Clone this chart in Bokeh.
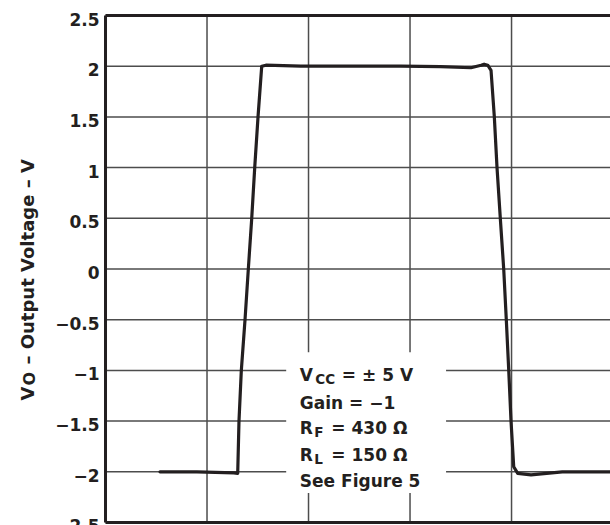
from bokeh.plotting import figure
from bokeh.models import Range1d, Label, BoxAnnotation
from bokeh.core.properties import value
from bokeh.embed import file_html
from bokeh.resources import INLINE
import math

# ---- data (time in ns, voltage in V) ----
t_ns = [10.74, 18.0, 25.3, 26.05, 26.3, 26.76, 27.49, 28.14, 28.81, 29.4, 30.05,
        30.78, 31.6, 38.5, 48.0, 58.2, 66.0, 72.0, 74.0, 74.6, 75.31, 75.96,
        76.61, 77.14, 77.79, 78.46, 78.97, 79.45, 79.90, 80.43, 81.22, 83.84,
        90.0, 99.6]
v_out = [-2.0, -2.0, -2.01, -2.015, -1.5, -1.0, -0.5, 0.0, 0.5, 1.0, 1.5,
         2.0, 2.01, 2.0, 2.0, 2.0, 1.995, 1.985, 2.01, 2.02, 2.01, 1.96,
         1.5, 1.0, 0.5, 0.0, -0.5, -1.0, -1.5, -1.95, -2.015, -2.03,
         -2.0, -2.0]

y_ticks = [-2.5, -2, -1.5, -1, -0.5, 0, 0.5, 1, 1.5, 2, 2.5]
y_tick_labels = ["\u22122.5", "\u22122", "\u22121.5", "\u22121", "\u22120.5", "0",
                 "0.5", "1", "1.5", "2", "2.5"]
x_grid = [20, 40, 60, 80]
x_start, x_end = 0.0, 99.5
y_lo, y_hi = y_ticks[0], y_ticks[-1]

INK = "#231f20"
GRID = "#4d4d4d"
FONT = "DejaVu Sans"

# the frame covers the whole canvas; the plotting box starts at x = 0
p = figure(width=610, height=525, output_backend="svg", toolbar_location=None,
           x_range=Range1d(-20.69, x_end), y_range=Range1d(-2.5296, 2.648),
           min_border=0, x_axis_location=None, y_axis_location=None)
p.outline_line_color = None
p.grid.visible = False
p.background_fill_color = "white"
p.border_fill_color = "white"

n = len(y_ticks)
# horizontal grid lines
p.segment(x0=[x_start] * n, y0=y_ticks, x1=[x_end] * n, y1=y_ticks,
          line_color=GRID, line_width=1.5)
# vertical grid lines
m = len(x_grid)
p.segment(x0=x_grid, y0=[y_lo] * m, x1=x_grid, y1=[y_hi] * m,
          line_color=GRID, line_width=1.5)

# frame lines (left, top, bottom)
p.segment(x0=[x_start, x_start, x_start], y0=[y_lo, y_hi, y_lo],
          x1=[x_start, x_end, x_end], y1=[y_hi, y_hi, y_lo],
          line_color=INK, line_width=3)

# waveform
p.line(t_ns, v_out, line_color=INK, line_width=3.2, line_join="round", line_cap="round")

# tick labels
p.text(x=[x_start] * n, y=y_ticks, text=y_tick_labels, x_offset=-6, y_offset=3.5,
       text_font=value(FONT), text_font_style="bold", text_font_size="17px",
       text_color=INK, text_align="right", text_baseline="middle")

# legend background box (blanks the grid)
p.add_layout(BoxAnnotation(left=35.6, right=67.1, top=-0.82, bottom=-2.21,
                           fill_color="white", fill_alpha=1.0, line_color=None))

def lab(x, y, text, size, xo=0, yo=0, angle=0):
    p.add_layout(Label(x=x, y=y, text=text, x_offset=xo, y_offset=yo, angle=angle,
                       text_font=FONT, text_font_style="bold",
                       text_font_size=f"{size}px", text_color=INK,
                       text_align="left", text_baseline="alphabetic"))

# annotation text
ax0 = 38.29
lines_y = [-1.043, -1.32, -1.57, -1.832, -2.086]
lab(ax0, lines_y[0], "V", 17)
lab(ax0, lines_y[0], "CC", 13.5, xo=15.5, yo=-4)
lab(ax0, lines_y[0], "= \u00b1 5 V", 17, xo=42)
lab(ax0, lines_y[1], "Gain = \u22121", 17)
lab(ax0, lines_y[2], "R", 17)
lab(ax0, lines_y[2], "F", 13.5, xo=14.5, yo=-4)
lab(ax0, lines_y[2], "= 430 \u03a9", 17, xo=31.5)
lab(ax0, lines_y[3], "R", 17)
lab(ax0, lines_y[3], "L", 13.5, xo=14.5, yo=-4)
lab(ax0, lines_y[3], "= 150 \u03a9", 17, xo=31.5)
lab(ax0, lines_y[4], "See Figure 5", 17)

# rotated y-axis title
tx, ty = -15.4, -1.297
lab(tx, ty, "V", 18, angle=math.pi / 2)
lab(tx, ty, "O", 16, xo=2, yo=15, angle=math.pi / 2)
lab(tx, ty, "\u2013 Output Voltage \u2013 V", 18, yo=36, angle=math.pi / 2)

open("out.html", "w").write(file_html(p, INLINE))
